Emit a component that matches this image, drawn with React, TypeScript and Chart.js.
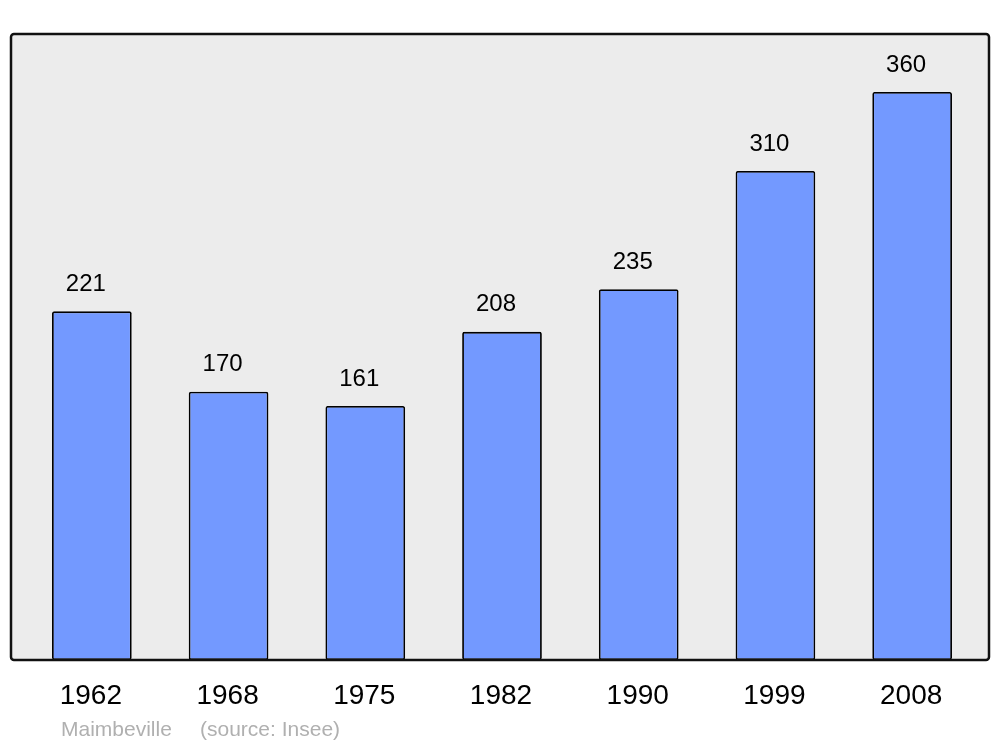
import React, { useEffect, useRef } from "react";
import { Chart, registerables } from "chart.js";

Chart.register(...registerables);

const years = ["1962", "1968", "1975", "1982", "1990", "1999", "2008"];
const population = [221, 170, 161, 208, 235, 310, 360];
const footerName = "Maimbeville";
const footerSource = "(source: Insee)";

const FONT = "'Liberation Sans', Arial, sans-serif";

const decor = {
  id: "decor",
  beforeDraw(chart: any) {
    const { ctx, chartArea } = chart;
    const left = 11, right = 989, top = 34, bottom = chartArea.bottom;
    ctx.save();
    ctx.beginPath();
    (ctx as any).roundRect(left, top, right - left, bottom - top, 3);
    ctx.fillStyle = "#ececec";
    ctx.fill();
    ctx.restore();
  },
  afterDatasetsDraw(chart: any) {
    const { ctx, chartArea } = chart;
    const left = 11, right = 989, top = 34, bottom = chartArea.bottom;
    ctx.save();
    ctx.beginPath();
    (ctx as any).roundRect(left, top, right - left, bottom - top, 3);
    ctx.lineWidth = 2.5;
    ctx.strokeStyle = "#111";
    ctx.stroke();

    const meta = chart.getDatasetMeta(0);
    ctx.fillStyle = "#000";
    ctx.textAlign = "center";
    ctx.textBaseline = "middle";
    ctx.font = `24px ${FONT}`;
    meta.data.forEach((bar: any, i: number) => {
      ctx.fillText(String(population[i]), bar.x - 6, bar.y - 27);
    });
    ctx.font = `28px ${FONT}`;
    meta.data.forEach((bar: any, i: number) => {
      ctx.fillText(years[i], bar.x - 1, bottom + 36);
    });
    ctx.font = `21px ${FONT}`;
    ctx.fillStyle = "#b0b0b0";
    ctx.textAlign = "left";
    ctx.fillText(footerName, 61, bottom + 70);
    ctx.fillText(footerSource, 200, bottom + 70);
    ctx.restore();
  },
};

export default function App() {
  const ref = useRef<HTMLCanvasElement>(null);
  useEffect(() => {
    document.body.style.margin = "0";
    const chart = new Chart(ref.current!, {
      type: "bar",
      data: {
        labels: years,
        datasets: [
          {
            data: population,
            backgroundColor: "#7399ff",
            borderColor: "#000",
            borderWidth: 1.8,
            borderRadius: 2,
            borderSkipped: false,
            barPercentage: 0.583,
            categoryPercentage: 1,
          },
        ],
      },
      options: {
        animation: false,
        responsive: false,
        maintainAspectRatio: false,
        layout: { padding: { left: 23.5, right: 19.5, top: 34, bottom: 87 } },
        plugins: { legend: { display: false }, tooltip: { enabled: false } },
        scales: {
          x: { display: false },
          y: { display: false, min: 0, max: 396.8 },
        },
      },
      plugins: [decor],
    });
    return () => chart.destroy();
  }, []);
  return <canvas ref={ref} width={1000} height={747} style={{ display: "block" }} />;
}
